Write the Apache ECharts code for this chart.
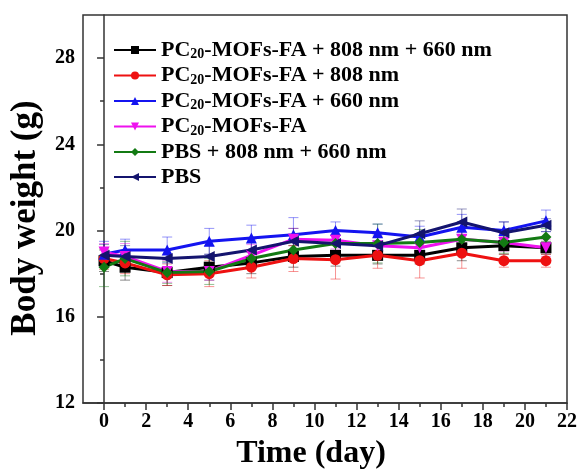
<!DOCTYPE html>
<html>
<head>
<meta charset="utf-8">
<script src="https://cdn.jsdelivr.net/npm/echarts@6/dist/echarts.min.js"></script>
<style>
  html, body { margin: 0; padding: 0; background: #fff; }
  #main { width: 581px; height: 472px; }
</style>
</head>
<body>
<div id="main"></div>
<script>
// days measured
const days = [0, 1, 3, 5, 7, 9, 11, 13, 15, 17, 19, 21];

// body weight (g)
const pcLaser2 = [18.6, 18.3, 18.05, 18.3, 18.5, 18.8, 18.85, 18.85, 18.85, 19.2, 19.3, 19.2];
const pc808 = [18.7, 18.5, 17.95, 18.0, 18.3, 18.7, 18.65, 18.85, 18.6, 18.95, 18.6, 18.6];
const pc660 = [18.9, 19.1, 19.1, 19.5, 19.65, 19.8, 20.0, 19.9, 19.7, 20.15, 20.0, 20.45];
const pcOnly = [19.0, 18.8, 18.1, 18.1, 18.85, 19.6, 19.55, 19.3, 19.2, 19.6, 19.45, 19.2];
const pbsLaser = [18.3, 18.7, 18.05, 18.1, 18.7, 19.1, 19.4, 19.4, 19.45, 19.6, 19.45, 19.7];
const pbs = [18.85, 18.8, 18.7, 18.8, 19.1, 19.5, 19.4, 19.3, 19.85, 20.4, 19.9, 20.25];

// error bar half-heights
const errLaser2 = [0.5, 0.6, 0.6, 0.6, 0.5, 0.5, 0.5, 0.4, 0.4, 0.6, 0.4, 0.3];
const err808 = [0.5, 0.5, 0.5, 0.6, 0.5, 0.6, 0.9, 0.6, 0.8, 0.7, 0.3, 0.3];
const err660 = [0.6, 0.5, 0.6, 0.6, 0.6, 0.8, 0.4, 0.4, 0.5, 0.6, 0.4, 0.5];
const errOnly = [0.4, 0.6, 0.5, 0.4, 0.5, 0.5, 0.4, 0.4, 0.5, 0.5, 0.4, 0.4];
const errPbsLaser = [0.9, 0.8, 0.5, 0.6, 0.4, 0.5, 0.6, 0.9, 0.6, 0.5, 0.5, 0.4];
const errPbs = [0.5, 0.5, 0.4, 0.5, 0.5, 0.6, 0.4, 0.5, 0.6, 0.6, 0.5, 0.3];

const xMajorTicks = [0, 2, 4, 6, 8, 10, 12, 14, 16, 18, 20, 22];
const xMinorTicks = [1, 3, 5, 7, 9, 11, 13, 15, 17, 19, 21];
const yMajorTicks = [12, 16, 20, 24, 28];
const yMinorTicks = [14, 18, 22, 26];

const groups = [
  {name: 'PC20-MOFs-FA + 808 nm + 660 nm', data: pcLaser2, err: errLaser2, color: '#000000', symbol: 'rect'},
  {name: 'PC20-MOFs-FA + 808 nm', data: pc808, err: err808, color: '#ee1111', symbol: 'circle'},
  {name: 'PC20-MOFs-FA + 660 nm', data: pc660, err: err660, color: '#1414f0', symbol: 'triangle'},
  {name: 'PC20-MOFs-FA', data: pcOnly, err: errOnly, color: '#ee11ee', symbol: 'path://M0,0 L10,0 L5,9 Z'},
  {name: 'PBS + 808 nm + 660 nm', data: pbsLaser, err: errPbsLaser, color: '#137a13', symbol: 'diamond'},
  {name: 'PBS', data: pbs, err: errPbs, color: '#14146e', symbol: 'path://M0,5 L9,0 L9,10 Z'}
];

const serif = '"Liberation Serif", "DejaVu Serif", serif';

let series = []
groups.forEach(g => {
  // error bars first so the lines sit on top
  series.push({
    type: 'custom',
    name: g.name + ' err',
    silent: true,
    z: 1,
    data: days.map((d, i) => [d, g.data[i] - g.err[i], g.data[i] + g.err[i]]),
    renderItem: (params, api) => {
      let lo = api.coord([api.value(0), api.value(1)])
      let hi = api.coord([api.value(0), api.value(2)])
      let w = 5
      let style = {stroke: g.color, lineWidth: 1, opacity: 0.45}
      return {
        type: 'group',
        children: [
          {type: 'line', shape: {x1: lo[0], y1: lo[1], x2: hi[0], y2: hi[1]}, style: style},
          {type: 'line', shape: {x1: lo[0] - w, y1: lo[1], x2: lo[0] + w, y2: lo[1]}, style: style},
          {type: 'line', shape: {x1: hi[0] - w, y1: hi[1], x2: hi[0] + w, y2: hi[1]}, style: style}
        ]
      }
    }
  })
  series.push({
    type: 'line',
    name: g.name,
    z: 3,
    data: days.map((d, i) => [d, g.data[i]]),
    symbol: g.symbol,
    symbolSize: 11,
    showAllSymbol: true,
    lineStyle: {color: g.color, width: 3},
    itemStyle: {color: g.color},
    emphasis: {disabled: true}
  })
})

let chart = echarts.init(document.getElementById('main'))
let option = {
  animation: false,
  backgroundColor: '#fff',
  grid: {
    left: 83, right: 14, top: 15, bottom: 69,
    outerBoundsMode: 'none',
    show: true, borderColor: '#333', borderWidth: 1.5
  },
  legend: {
    orient: 'vertical',
    left: 108,
    top: 34,
    itemWidth: 42,
    itemHeight: 10,
    itemGap: 3,
    data: groups.map(g => g.name),
    formatter: name => {
      if (name.indexOf('PC20') === 0) {
        return '{t|PC}{s|20}{t|' + name.slice(4) + '}'
      }
      return '{t|' + name + '}'
    },
    textStyle: {
      rich: {
        t: {fontFamily: serif, fontWeight: 'bold', fontSize: 22, color: '#000'},
        s: {fontFamily: serif, fontWeight: 'bold', fontSize: 14, color: '#000', verticalAlign: 'bottom', padding: [9, 0, 0, 0]}
      }
    }
  },
  xAxis: [
    {
      type: 'value',
      min: -1,
      max: 22,
      name: 'Time (day)',
      nameLocation: 'middle',
      nameGap: 35,
      nameTextStyle: {fontFamily: serif, fontWeight: 'bold', fontSize: 32, color: '#000', padding: [0, 28, 0, 0]},
      axisLine: {lineStyle: {color: '#333', width: 1.5}},
      axisTick: {customValues: xMajorTicks, length: 7, lineStyle: {color: '#333', width: 1.5}},
      axisLabel: {customValues: xMajorTicks, fontFamily: serif, fontWeight: 'bold', fontSize: 20, color: '#000', margin: 9},
      splitLine: {show: false}
    },
    {
      type: 'value',
      position: 'bottom',
      min: -1,
      max: 22,
      axisLine: {show: false},
      axisTick: {customValues: xMinorTicks, length: 4, lineStyle: {color: '#333', width: 1.5}},
      axisLabel: {show: false},
      splitLine: {show: false}
    }
  ],
  yAxis: [
    {
      type: 'value',
      min: 12,
      max: 30,
      name: 'Body weight (g)',
      nameLocation: 'middle',
      nameGap: 40,
      nameTextStyle: {fontFamily: serif, fontWeight: 'bold', fontSize: 35, color: '#000', padding: [0, 18, 0, 0]},
      axisLine: {show: true, lineStyle: {color: '#333', width: 1.5}},
      axisTick: {customValues: yMajorTicks, length: 7, lineStyle: {color: '#333', width: 1.5}},
      axisLabel: {customValues: yMajorTicks, fontFamily: serif, fontWeight: 'bold', fontSize: 20, color: '#000', margin: 8},
      splitLine: {show: false}
    },
    {
      type: 'value',
      position: 'left',
      min: 12,
      max: 30,
      axisLine: {show: false},
      axisTick: {show: true, customValues: yMinorTicks, length: 4, lineStyle: {color: '#333', width: 1.5}},
      axisLabel: {show: false},
      splitLine: {show: false}
    }
  ],
  series: series
}
chart.setOption(option)
</script>
</body>
</html>
